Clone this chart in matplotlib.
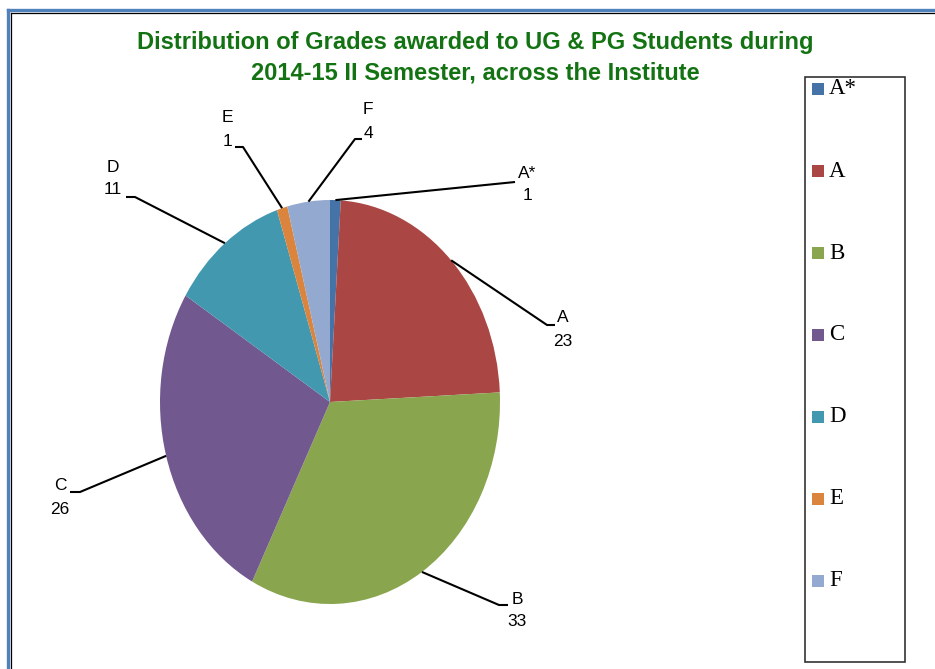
import numpy as np
import matplotlib.pyplot as plt
from matplotlib.patches import Rectangle
from matplotlib.lines import Line2D

grades = ['A*', 'A', 'B', 'C', 'D', 'E', 'F']
counts = [1, 23, 33, 26, 11, 1, 4]
colors = ['#4572A7', '#AA4643', '#89A54E', '#71588F', '#4198AF', '#DB843D', '#93A9CF']

title1 = 'Distribution of Grades awarded to UG & PG Students during'
title2 = '2014-15 II Semester, across the Institute'

W, H = 935, 669
# pie centre and radii in pixels (the original pie is a bit taller than wide)
cx, cy, rx, ry = 330, 402, 170, 202

# label layout in pixels: elbow point, end of horizontal stub, text x, name y, value y
label_layout = {
    'A*': ((515, 182), (515, 182), 527, 173, 196),
    'A': ((547, 325), (555, 325), 563, 318, 341),
    'B': ((499, 605), (508, 605), 517, 599, 622),
    'C': ((80, 492), (70, 492), 60, 485, 509),
    'D': ((135, 197), (126, 197), 113, 167, 190),
    'E': ((243, 147), (235, 147), 227, 117, 141),
    'F': ((355, 139), (362, 139), 368, 110, 133),
}


def to_data(px, py):
    return (px - cx) / rx, (cy - py) / ry


fig = plt.figure(figsize=(W / 100, H / 100), dpi=100)
ax = fig.add_axes([0, 0, 1, 1])
wedges, _ = ax.pie(counts, colors=colors, startangle=90, counterclock=False,
                   wedgeprops=dict(linewidth=0))
ax.set_aspect('auto')
ax.set_xlim(-cx / rx, (W - cx) / rx)
ax.set_ylim((cy - H) / ry, cy / ry)
ax.axis('off')

for w, g, n in zip(wedges, grades, counts):
    ang = np.deg2rad((w.theta1 + w.theta2) / 2)
    sx, sy = np.cos(ang), np.sin(ang)
    elbow, end, tx, ny, vy = label_layout[g]
    ex, ey = to_data(*elbow)
    hx, hy = to_data(*end)
    ax.plot([sx, ex, hx], [sy, ey, hy], color='black', lw=1.5, solid_capstyle='butt')
    x1, y1 = to_data(tx, ny)
    x2, y2 = to_data(tx, vy)
    ax.text(x1, y1, g, ha='center', va='center', fontsize=12.5, family='Liberation Sans')
    ax.text(x2, y2, str(n), ha='center', va='center', fontsize=12.5, family='Liberation Sans')

# title
fig.text(475 / W, 1 - 42 / H, title1, ha='center', va='center', fontsize=17,
         fontweight='bold', color='#137313', family='Liberation Sans')
fig.text(475 / W, 1 - 73 / H, title2, ha='center', va='center', fontsize=17,
         fontweight='bold', color='#137313', family='Liberation Sans')

# legend box drawn by hand to keep the Excel spacing
fig.patches.append(Rectangle((805 / W, 1 - 662 / H), 100 / W, 585 / H,
                             transform=fig.transFigure, fill=False,
                             edgecolor='#333333', lw=1.2))
for i, (g, c) in enumerate(zip(grades, colors)):
    y = 89 + i * 82
    fig.patches.append(Rectangle((812 / W, 1 - (y + 6) / H), 12 / W, 12 / H,
                                 transform=fig.transFigure, color=c, lw=0))
    fig.text(829 / W, 1 - y / H, g, ha='left', va='center', fontsize=16.5,
             family='Liberation Serif')

# outer frame (blue with a thin black line inside)
fig.add_artist(Line2D([8 / W, 1], [1 - 10 / H, 1 - 10 / H], color='#4F81BD', lw=2.4,
                      transform=fig.transFigure))
fig.add_artist(Line2D([8 / W, 8 / W], [0, 1 - 10 / H], color='#4F81BD', lw=2.4,
                      transform=fig.transFigure))
fig.add_artist(Line2D([10.8 / W, 1], [1 - 12.5 / H, 1 - 12.5 / H], color='black', lw=0.9,
                      transform=fig.transFigure))
fig.add_artist(Line2D([10.8 / W, 10.8 / W], [0, 1 - 12.5 / H], color='black', lw=0.9,
                      transform=fig.transFigure))

fig.savefig('out.png', dpi=100)
